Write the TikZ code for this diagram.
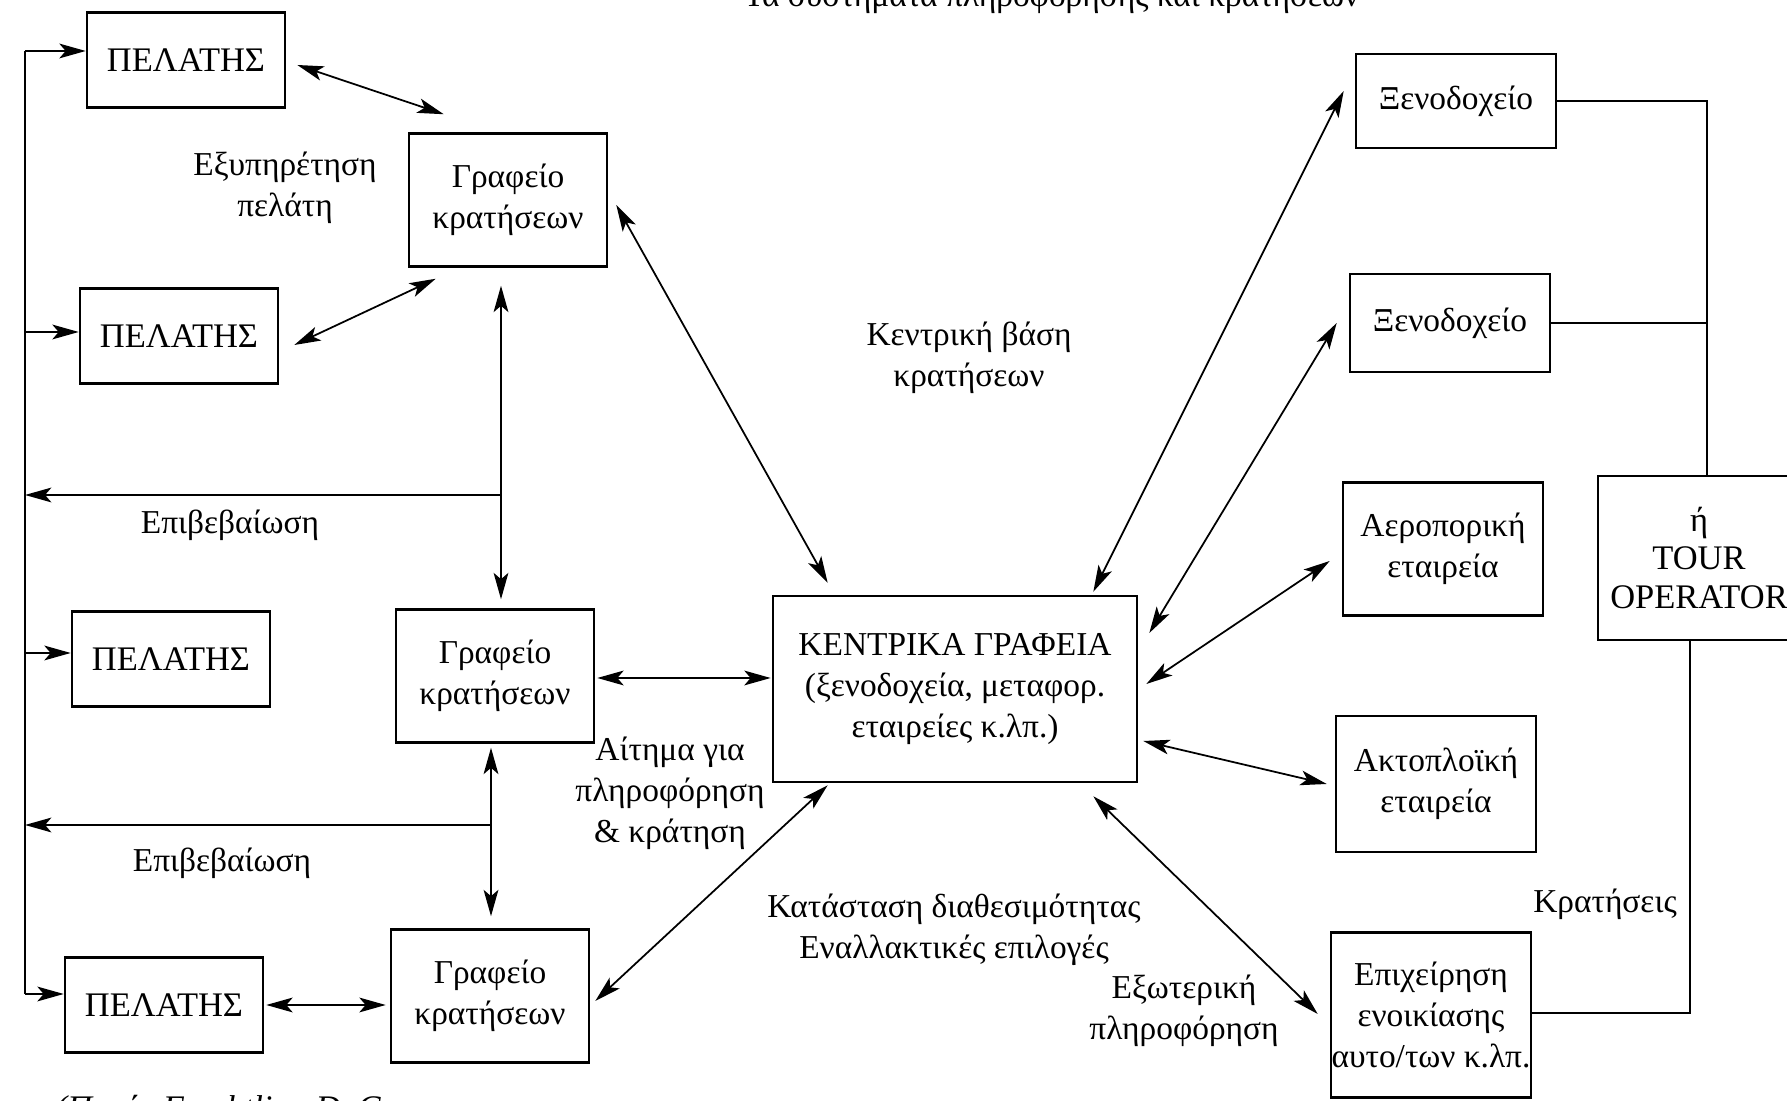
\documentclass[tikz,border=0pt]{standalone}
\usepackage{fontspec}
\setmainfont{Liberation Serif}
\usetikzlibrary{arrows.meta,calc}

\begin{document}
\begin{tikzpicture}[x=0.01cm,y=-0.01cm,
  font=\fontsize{9.5pt}{11.7pt}\selectfont,
  box/.style={draw, line width=0.7pt, align=center, inner sep=0pt},
  pelbox/.style={box, minimum width=1.98cm, minimum height=0.95cm, font=\fontsize{9.8pt}{11.7pt}\selectfont},
  grbox/.style={box, minimum width=1.98cm, minimum height=1.33cm},
  sidebox/.style={box, minimum width=2.0cm},
  link/.style={line width=0.5pt},
  onearrow/.style={link, -{Stealth[length=7.5pt,width=4.2pt,inset=1.8pt]}},
  twoarrow/.style={link, {Stealth[length=7.5pt,width=4.2pt,inset=1.8pt]}-{Stealth[length=7.5pt,width=4.2pt,inset=1.8pt]}},
  lbl/.style={align=center, inner sep=0pt}
]
\useasboundingbox (0,0) rectangle (1787,1101);

% heading and source line, partly outside the page
\node[anchor=base east, inner sep=0pt] (title) at (1360,7)
  {Τα συστήματα πληροφόρησης και κρατήσεων};
\node[anchor=base west, inner sep=0pt, font=\fontsize{9.8pt}{11.7pt}\selectfont\itshape] (source) at (55,1120)
  {(Πηγή: Frechtling D. C.};

% customers and booking offices
\node[pelbox] (pel1) at (186,60) {ΠΕΛΑΤΗΣ};
\node[pelbox] (pel2) at (179,336) {ΠΕΛΑΤΗΣ};
\node[pelbox] (pel3) at (171,659) {ΠΕΛΑΤΗΣ};
\node[pelbox] (pel4) at (164,1005) {ΠΕΛΑΤΗΣ};
\node[grbox] (gr1) at (508,200) {Γραφείο\\κρατήσεων};
\node[grbox] (gr2) at (495,676) {Γραφείο\\κρατήσεων};
\node[grbox] (gr3) at (490,996) {Γραφείο\\κρατήσεων};

% head office
\node[box, minimum width=3.64cm, minimum height=1.86cm] (cen) at (955,689)
  {ΚΕΝΤΡΙΚΑ ΓΡΑΦΕΙΑ\\(ξενοδοχεία, μεταφορ.\\εταιρείες κ.λπ.)};

% suppliers
\node[sidebox, minimum height=0.94cm] (x1) at (1456,101) {Ξενοδοχείο};
\node[sidebox, minimum height=0.98cm] (x2) at (1450,323) {Ξενοδοχείο};
\node[sidebox, minimum height=1.33cm] (aer) at (1443,549) {Αεροπορική\\εταιρεία};
\node[sidebox, minimum height=1.36cm] (akt) at (1436,784) {Ακτοπλοϊκή\\εταιρεία};
\node[sidebox, minimum height=1.65cm] (epi) at (1431,1015) {Επιχείρηση\\ενοικίασης\\αυτο/των κ.λπ.};
\node[box, minimum width=2.02cm, minimum height=1.64cm, font=\fontsize{9.8pt}{11pt}\selectfont] (to) at (1699,558) {ή\\TOUR\\OPERATOR};

% labels
\node[lbl] (serv) at (285,188) {Εξυπηρέτηση\\πελάτη};
\node[lbl] (conf1) at (230,525) {Επιβεβαίωση};
\node[lbl] (conf2) at (222,863) {Επιβεβαίωση};
\node[lbl] (base) at (969,358) {Κεντρική βάση\\κρατήσεων};
\node[lbl] (req) at (670,793) {Αίτημα για\\πληροφόρηση\\\& κράτηση};
\node[lbl] (avail) at (954,930) {Κατάσταση διαθεσιμότητας\\Εναλλακτικές επιλογές};
\node[lbl] (ext) at (1184,1011) {Εξωτερική\\πληροφόρηση};
\node[lbl] (res) at (1605,904) {Κρατήσεις};

% left return line to the customers
\coordinate (ltop) at (25,51);
\coordinate (l2) at (25,332);
\coordinate (l3) at (25,653);
\coordinate (lbot) at (25,994);
\coordinate (c1) at (501,495);
\coordinate (c2) at (491,825);
\draw[link] (ltop) -- (lbot);
\draw[onearrow] (ltop) -- (ltop -| pel1.west);
\draw[onearrow] (l2) -- (l2 -| pel2.west);
\draw[onearrow] (l3) -- (l3 -| pel3.west);
\draw[onearrow] (lbot) -- (lbot -| pel4.west);
\draw[onearrow] (c1) -- (c1 -| ltop);
\draw[onearrow] (c2) -- (c2 -| ltop);

% customer <-> office
\draw[twoarrow] ($(pel1.east)+(11,5)$) -- ($(gr1.north west)+(36,-18)$);
\draw[twoarrow] ($(pel2.east)+(15,9)$) -- ($(gr1.south west)+(28,11)$);
\draw[twoarrow] ($(pel4.east)+(2,0)$) -- ($(gr3.west)+(-4,9)$);

% office <-> office
\draw[twoarrow] ($(gr1.south)+(-7,18)$) -- ($(gr2.north)+(6,-9)$);
\draw[twoarrow] ($(gr2.south)+(-4,4)$) -- ($(gr3.north)+(1,-12)$);

% office <-> head office
\draw[twoarrow] ($(gr1.east)+(8,5)$) -- ($(cen.north west)+(56,-12)$);
\draw[twoarrow] ($(gr2.east)+(2,2)$) -- ($(cen.west)+(-1,-11)$);
\draw[twoarrow] ($(gr3.east)+(5,5)$) -- ($(cen.south west)+(56,2)$);

% head office <-> suppliers
\draw[twoarrow] ($(cen.north east)+(-45,-3)$) -- ($(x1.west)+(-11,-10)$);
\draw[twoarrow] ($(cen.east)+(11,-56)$) -- ($(x2.west)+(-12,0)$);
\draw[twoarrow] ($(cen.east)+(8,-5)$) -- ($(aer.west)+(-12,12)$);
\draw[twoarrow] ($(cen.east)+(5,52)$) -- ($(akt.west)+(-8,0)$);
\draw[twoarrow] ($(cen.south east)+(-45,13)$) -- ($(epi.west)+(-12,-1)$);

% suppliers joined to the tour operator
\coordinate (rt) at (1707,101);
\coordinate (rb) at (1690,1013);
\draw[link] (x1.east) -- (rt) -- (rt |- to.north);
\draw[link] (x2.east) -- (x2.east -| rt);
\draw[link] ($(aer.east)+(0,17)$) -- ($(aer.east)+(0,17)$ -| to.west);
\draw[link] (rb |- to.south) -- (rb) -- (rb -| epi.east);
\draw[link] ($(akt.east)+(0,3)$) -- ($(akt.east)+(0,3)$ -| rb);
\end{tikzpicture}
\end{document}
